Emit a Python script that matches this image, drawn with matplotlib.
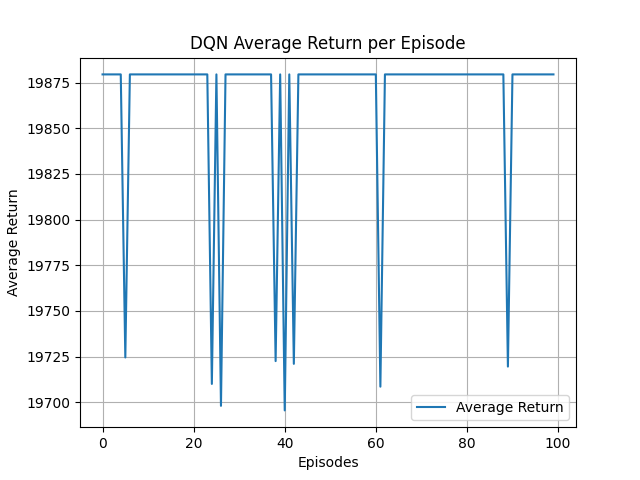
import numpy as np
import matplotlib
matplotlib.use("Agg")
import matplotlib.pyplot as plt

episodes = list(range(100))
top_value = 19879.5
dip_episodes = [5, 24, 26, 38, 40, 42, 61, 89]
dip_values = [19724.5, 19710, 19698, 19722.5, 19695.5, 19721, 19708.5, 19719.5]

returns = [top_value] * len(episodes)
for e, v in zip(dip_episodes, dip_values):
    returns[e] = v

fig, ax = plt.subplots(figsize=(6.4, 4.8), dpi=100)
ax.plot(episodes, returns, label="Average Return")
ax.set_title("DQN Average Return per Episode")
ax.set_xlabel("Episodes")
ax.set_ylabel("Average Return")
ax.grid(True)
ax.legend(loc="lower right")
fig.savefig("out.png")
